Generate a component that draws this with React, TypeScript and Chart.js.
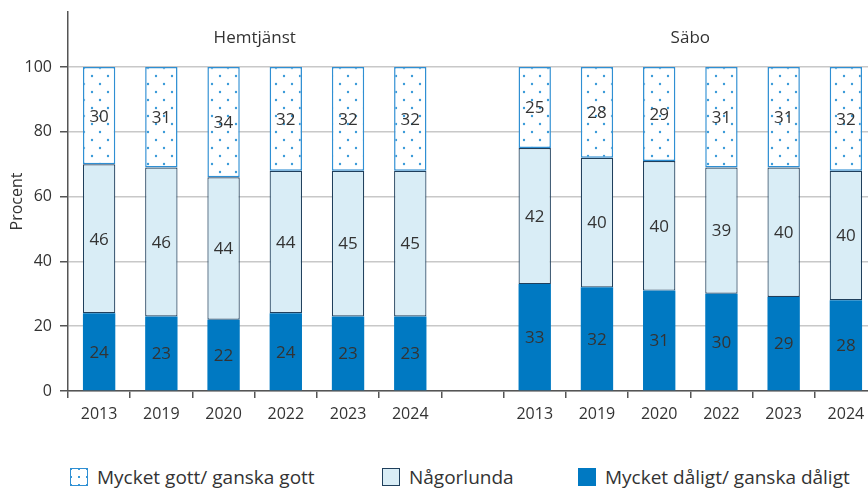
import React, { useEffect, useRef } from "react";
import { Chart, registerables } from "chart.js";

Chart.register(...registerables);

const categories = ["2013", "2019", "2020", "2022", "2023", "2024", "", "2013", "2019", "2020", "2022", "2023", "2024"];
const groupLabels = ["Hemtjänst", "Säbo"];
const groupRanges = [[0, 5], [7, 12]];
const seriesNames = ["Mycket dåligt/ ganska dåligt", "Någorlunda", "Mycket gott/ ganska gott"];
const badValues = [24, 23, 22, 24, 23, 23, null, 33, 32, 31, 30, 29, 28];
const okValues = [46, 46, 44, 44, 45, 45, null, 42, 40, 40, 39, 40, 40];
const goodValues = [30, 31, 34, 32, 32, 32, null, 25, 28, 29, 31, 31, 32];
const yTicks = [0, 20, 40, 60, 80, 100];
const yMax = 117;
const groupLabelValue = 109;

const FONT = "'Open Sans', sans-serif";
const TEXT = "#333333";
const DARK_BLUE = "#0079c2";
const LIGHT_BLUE = "#d9edf6";
const MID_BORDER = "#1f3f5c";
const DOT_BLUE = "#3a9ad9";

const labelPlugin = {
  id: "segLabels",
  afterDatasetsDraw(chart: any) {
    const ctx = chart.ctx;
    ctx.save();
    ctx.font = `17px ${FONT}`;
    ctx.fillStyle = TEXT;
    ctx.textAlign = "center";
    ctx.textBaseline = "middle";
    chart.data.datasets.forEach((ds: any, di: number) => {
      const meta = chart.getDatasetMeta(di);
      meta.data.forEach((el: any, i: number) => {
        const v = ds.data[i];
        if (v == null) return;
        const { x, y, base } = el.getProps(["x", "y", "base"], true);
        ctx.fillText(String(v), x, (y + base) / 2 + 1);
      });
    });
    const xs = chart.scales.x;
    const ys = chart.scales.y;
    groupLabels.forEach((g, k) => {
      const [a, b] = groupRanges[k];
      const cx = (xs.getPixelForValue(a) + xs.getPixelForValue(b)) / 2;
      ctx.fillText(g, cx, ys.getPixelForValue(groupLabelValue));
    });
    ctx.restore();
  },
};

export default function App() {
  const ref = useRef<HTMLCanvasElement | null>(null);

  useEffect(() => {
    const canvas = ref.current;
    if (!canvas) return;
    const ctx = canvas.getContext("2d")!;
    const pc = document.createElement("canvas");
    pc.width = 16;
    pc.height = 16;
    const p = pc.getContext("2d")!;
    p.fillStyle = "#ffffff";
    p.fillRect(0, 0, 16, 16);
    p.fillStyle = DOT_BLUE;
    p.beginPath();
    p.arc(4, 4, 1.2, 0, Math.PI * 2);
    p.fill();
    p.beginPath();
    p.arc(12, 12, 1.2, 0, Math.PI * 2);
    p.fill();
    const pattern = ctx.createPattern(pc, "repeat")!;

    const chart = new Chart(canvas, {
      type: "bar",
      data: {
        labels: categories,
        datasets: [
          {
            label: seriesNames[0],
            data: badValues,
            backgroundColor: DARK_BLUE,
            borderWidth: 0,
          },
          {
            label: seriesNames[1],
            data: okValues,
            backgroundColor: LIGHT_BLUE,
            borderColor: MID_BORDER,
            borderWidth: 1.2,
            borderSkipped: false,
          },
          {
            label: seriesNames[2],
            data: goodValues,
            backgroundColor: pattern as any,
            borderColor: "#2f8fd3",
            borderWidth: 1.5,
            borderSkipped: false,
          },
        ] as any,
      },
      options: {
        animation: false,
        responsive: false,
        layout: { padding: { left: 0, right: 8, top: 12, bottom: 0 } },
        datasets: { bar: { barPercentage: 0.52, categoryPercentage: 1 } } as any,
        plugins: { legend: { display: false }, tooltip: { enabled: false } },
        scales: {
          x: {
            stacked: true,
            afterFit: (s: any) => {
              s.height = 49;
              s.paddingLeft = 0;
              s.paddingRight = 0;
            },
            grid: { display: true, drawOnChartArea: false, tickLength: 7, color: "#555555", lineWidth: 1.5 },
            border: { color: "#555555", width: 1.5 },
            ticks: { font: { family: FONT, size: 16 }, color: TEXT, padding: 7, maxRotation: 0, autoSkip: false },
          },
          y: {
            stacked: true,
            min: 0,
            max: yMax,
            afterFit: (s: any) => {
              s.width = 68;
              s.paddingTop = 0;
              s.paddingBottom = 0;
            },
            afterBuildTicks: (s: any) => {
              s.ticks = yTicks.map((v) => ({ value: v }));
            },
            grid: { color: "#c8c8c8", lineWidth: 1.5, tickLength: 8, tickColor: "#555555" } as any,
            border: { color: "#555555", width: 1.5 },
            ticks: { font: { family: FONT, size: 16 }, color: TEXT, padding: 8 },
            title: {
              display: true,
              text: "Procent",
              font: { family: FONT, size: 16 },
              color: TEXT,
              padding: { top: 8, bottom: 0 },
            },
          },
        },
      },
      plugins: [labelPlugin],
    });
    return () => chart.destroy();
  }, []);

  const itemStyle: React.CSSProperties = {
    position: "absolute",
    top: 467,
    display: "flex",
    alignItems: "center",
    height: 20,
    font: `19px ${FONT}`,
    color: TEXT,
    whiteSpace: "nowrap",
  };
  const boxBase: React.CSSProperties = { width: 18, height: 18, boxSizing: "border-box", marginRight: 9 };

  return (
    <div style={{ position: "fixed", left: 0, top: 0, width: 868, height: 490, overflow: "hidden", background: "#fff" }}>
      <canvas ref={ref} width={885} height={440} style={{ position: "absolute", left: 0, top: 0, width: 885, height: 440 }} />
      <div style={{ ...itemStyle, left: 70 }}>
        <span
          style={{
            ...boxBase,
            border: `1.5px solid #2f8fd3`,
            backgroundColor: "#fff",
            backgroundImage: `radial-gradient(circle, ${DOT_BLUE} 1px, transparent 1.4px)`,
            backgroundSize: "8px 8px",
            backgroundPosition: "4px 4px",
          }}
        />
        <span>{seriesNames[2]}</span>
      </div>
      <div style={{ ...itemStyle, left: 382 }}>
        <span style={{ ...boxBase, border: `1px solid ${MID_BORDER}`, backgroundColor: LIGHT_BLUE }} />
        <span>{seriesNames[1]}</span>
      </div>
      <div style={{ ...itemStyle, left: 578 }}>
        <span style={{ ...boxBase, backgroundColor: DARK_BLUE }} />
        <span>{seriesNames[0]}</span>
      </div>
    </div>
  );
}
